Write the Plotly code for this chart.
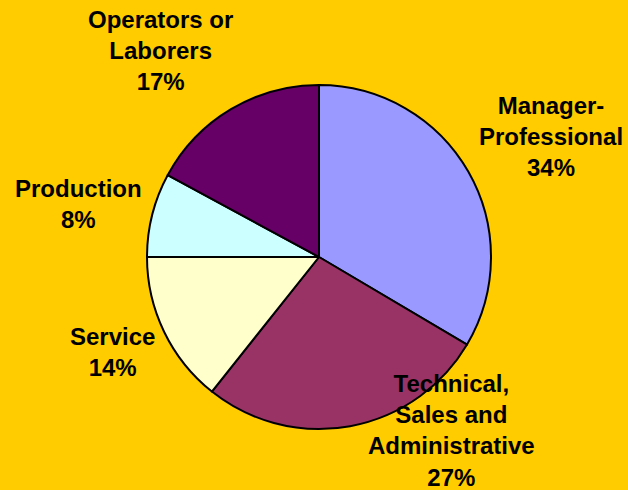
import plotly.graph_objects as go

categories = ["Manager-Professional", "Technical, Sales and Administrative", "Service", "Production", "Operators or Laborers"]
values = [33.5, 27.2, 14.3, 7.9, 17.1]
label_texts = ["Manager-<br>Professional<br>34%", "Technical,<br>Sales and<br>Administrative<br>27%",
               "Service<br>14%", "Production<br>8%", "Operators or<br>Laborers<br>17%"]
colors = ["#9999FF", "#993366", "#FFFFCC", "#CCFFFF", "#660066"]

W, H = 628, 490
cx, cy, r = 319, 257, 172

fig = go.Figure(go.Pie(
    labels=categories, values=values, sort=False, direction="clockwise", rotation=0,
    marker=dict(colors=colors, line=dict(color="black", width=2)),
    textinfo="none", hoverinfo="skip", showlegend=False,
    domain=dict(x=[(cx - r) / W, (cx + r) / W], y=[(H - cy - r) / H, (H - cy + r) / H]),
))

label_pos = [(551, 136), (452, 430), (113, 352), (78, 204), (160, 50)]
for txt, (x, y) in zip(label_texts, label_pos):
    fig.add_annotation(x=x / W, y=1 - y / H, xref="paper", yref="paper", text="<b>" + txt + "</b>",
                       showarrow=False, xanchor="center", yanchor="middle", align="center",
                       font=dict(family="Liberation Sans, Arial, sans-serif", size=24, color="black"))

fig.update_layout(width=W, height=H, margin=dict(l=0, r=0, t=0, b=0),
                  paper_bgcolor="#FFCC00", plot_bgcolor="#FFCC00")
fig.write_html("out.html", config={"displayModeBar": False},
               post_script="document.body.style.margin='0px';document.body.style.background='#FFCC00';")
